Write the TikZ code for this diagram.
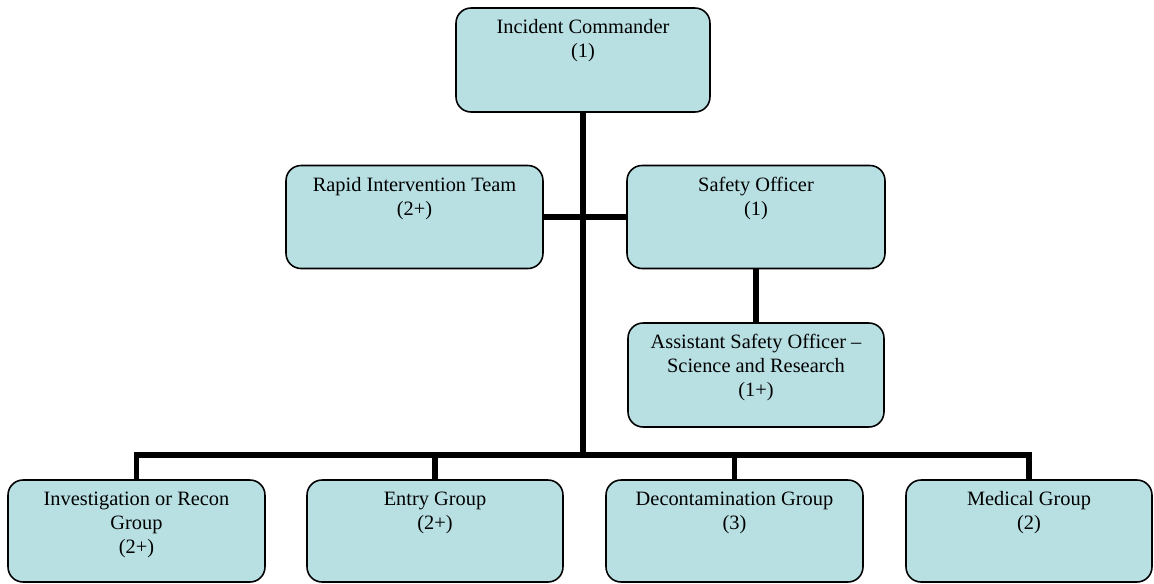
\documentclass[tikz,border=0pt]{standalone}
\usepackage{fontspec}
\setmainfont{Liberation Serif}
\usepackage{tikz}
\definecolor{boxfill}{RGB}{184,224,227}
\newcommand{\orgtext}[3]{\parbox[c][#2][t]{#1}{\centering\rule{0pt}{14.6pt}#3}}
\tikzset{
	orgbox/.style={draw=black, fill=boxfill, line width=0.9pt, rounded corners=0.3cm, inner sep=0pt,
		font=\fontsize{11.6}{13.6}\selectfont},
	link/.style={line width=2.9pt, line join=miter}
}

\begin{document}
\begin{tikzpicture}[x=0.02cm, y=-0.02cm]
		\useasboundingbox (0,0) rectangle (1154,583);
		\node[orgbox] (ic) at (583,60) {\orgtext{5.08cm}{2.08cm}{Incident Commander\\(1)}};
		\node[orgbox] (rit) at (414.5,217) {\orgtext{5.14cm}{2.06cm}{Rapid Intervention Team\\(2+)}};
		\node[orgbox] (so) at (756,217) {\orgtext{5.16cm}{2.06cm}{Safety Officer\\(1)}};
		\node[orgbox] (aso) at (756,375) {\orgtext{5.12cm}{2.08cm}{Assistant Safety Officer --\\Science and Research\\(1+)}};
		\node[orgbox] (inv) at (136.5,531) {\orgtext{5.14cm}{2.04cm}{Investigation or Recon\\Group\\(2+)}};
		\node[orgbox] (entry) at (435,531) {\orgtext{5.12cm}{2.04cm}{Entry Group\\(2+)}};
		\node[orgbox] (decon) at (734.5,531) {\orgtext{5.14cm}{2.04cm}{Decontamination Group\\(3)}};
		\node[orgbox] (med) at (1029,531) {\orgtext{4.92cm}{2.04cm}{Medical Group\\(2)}};
		
		\coordinate (bus) at (583,455);
		\draw[link] (ic.south) to (ic.south |- bus);
		\draw[link] (rit.east) to (so.west);
		\draw[link] (so.south) to (aso.north);
		\draw[link] (inv.north) -- (inv.north |- bus) -- (med.north |- bus) -- (med.north);
		\draw[link] (entry.north) to (entry.north |- bus);
		\draw[link] (decon.north) to (decon.north |- bus);
		
		\end{tikzpicture}
\end{document}
